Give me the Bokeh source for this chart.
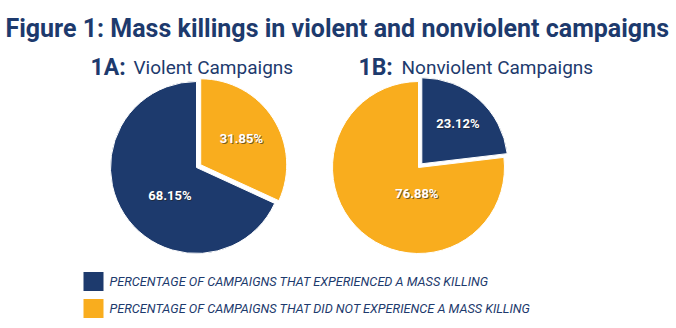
import math
from bokeh.plotting import figure
from bokeh.models import Range1d
from bokeh.core.properties import value
from bokeh.embed import file_html
from bokeh.resources import INLINE

# ---- data ----
title_text = "Figure 1: Mass killings in violent and nonviolent campaigns"
panel_ids = ["1A:", "1B:"]
panel_names = ["Violent Campaigns", "Nonviolent Campaigns"]
experienced = [68.15, 23.12]        # % that experienced a mass killing
not_experienced = [31.85, 76.88]    # % that did not
legend_labels = [
    "PERCENTAGE OF CAMPAIGNS THAT EXPERIENCED A MASS KILLING",
    "PERCENTAGE OF CAMPAIGNS THAT DID NOT EXPERIENCE A MASS KILLING",
]

NAVY = "#1d3a6d"
ORANGE = "#f9ad1e"
W, H = 676, 328

p = figure(width=W, height=H, output_backend="svg", toolbar_location=None,
           x_range=Range1d(0, W), y_range=Range1d(0, H), min_border=0)
p.axis.visible = False
p.grid.visible = False
p.outline_line_color = None
p.background_fill_color = "white"
p.border_fill_color = "white"

def Y(y):
    return H - y

FONT = "Roboto"

# title
p.text(x=[5], y=[Y(28)], text=[title_text], text_font=value(FONT), text_font_style="bold",
       text_font_size="25px", text_color=NAVY, text_baseline="alphabetic")

# pies
centers = [(196, 167), (418, 167)]
R = 86
explode = 5
label_frac_small = [0.62, 0.69]
label_big = [(0.45, -14), (0.30, -38)]  # (radius fraction, angle tweak deg) for big slice label
head_x = [90, 358]

for i in range(2):
    cx, cy = centers[i]
    vals = [experienced[i], not_experienced[i]]
    cols = [NAVY, ORANGE]
    # smaller slice first, starting at 12 o'clock, clockwise
    order = sorted(range(2), key=lambda k: vals[k])
    cum = 0.0
    for j, k in enumerate(order):
        frac = vals[k] / 100.0
        a0 = math.pi / 2 - cum * 2 * math.pi
        a1 = math.pi / 2 - (cum + frac) * 2 * math.pi
        mid = (a0 + a1) / 2
        off = explode if j == 0 else 0
        x0 = cx + off * math.cos(mid)
        y0 = Y(cy) + off * math.sin(mid)
        p.wedge(x=[x0], y=[y0], radius=R, start_angle=a0, end_angle=a1, direction="clock",
                fill_color=cols[k], line_color="white", line_width=1)
        if j == 0:
            lr = R * label_frac_small[i]
            la = mid
        else:
            lr = R * label_big[i][0]
            la = mid - math.radians(label_big[i][1])
        lx = cx + lr * math.cos(la)
        ly = Y(cy) + lr * math.sin(la)
        txt = f"{vals[k]:.2f}%"
        p.text(x=[lx + 1], y=[ly - 1], text=[txt], text_font=value(FONT), text_font_style="bold",
               text_font_size="13px", text_color="#222222", text_alpha=0.6,
               text_align="center", text_baseline="middle")
        p.text(x=[lx], y=[ly], text=[txt], text_font=value(FONT), text_font_style="bold",
               text_font_size="13px", text_color="white",
               text_align="center", text_baseline="middle")
        cum += frac
    # heading
    p.text(x=[head_x[i]], y=[Y(67)], text=[panel_ids[i]], text_font=value(FONT),
           text_font_style="bold", text_font_size="23px", text_color=NAVY,
           text_baseline="alphabetic")
    p.text(x=[head_x[i] + 43], y=[Y(67)], text=[panel_names[i]], text_font=value(FONT),
           text_font_style="normal", text_font_size="19px", text_color=NAVY,
           text_baseline="alphabetic")

# legend
leg_cols = [NAVY, ORANGE]
leg_y = [281, 308]
for i in range(2):
    p.rect(x=[93], y=[Y(leg_y[i])], width=20, height=19, fill_color=leg_cols[i], line_color=None)
    p.text(x=[109], y=[Y(leg_y[i])], text=[legend_labels[i]], text_font=value(FONT),
           text_font_style="italic", text_font_size="12.7px", text_color=NAVY,
           text_baseline="middle")

open("out.html", "w").write(file_html(p, INLINE))
